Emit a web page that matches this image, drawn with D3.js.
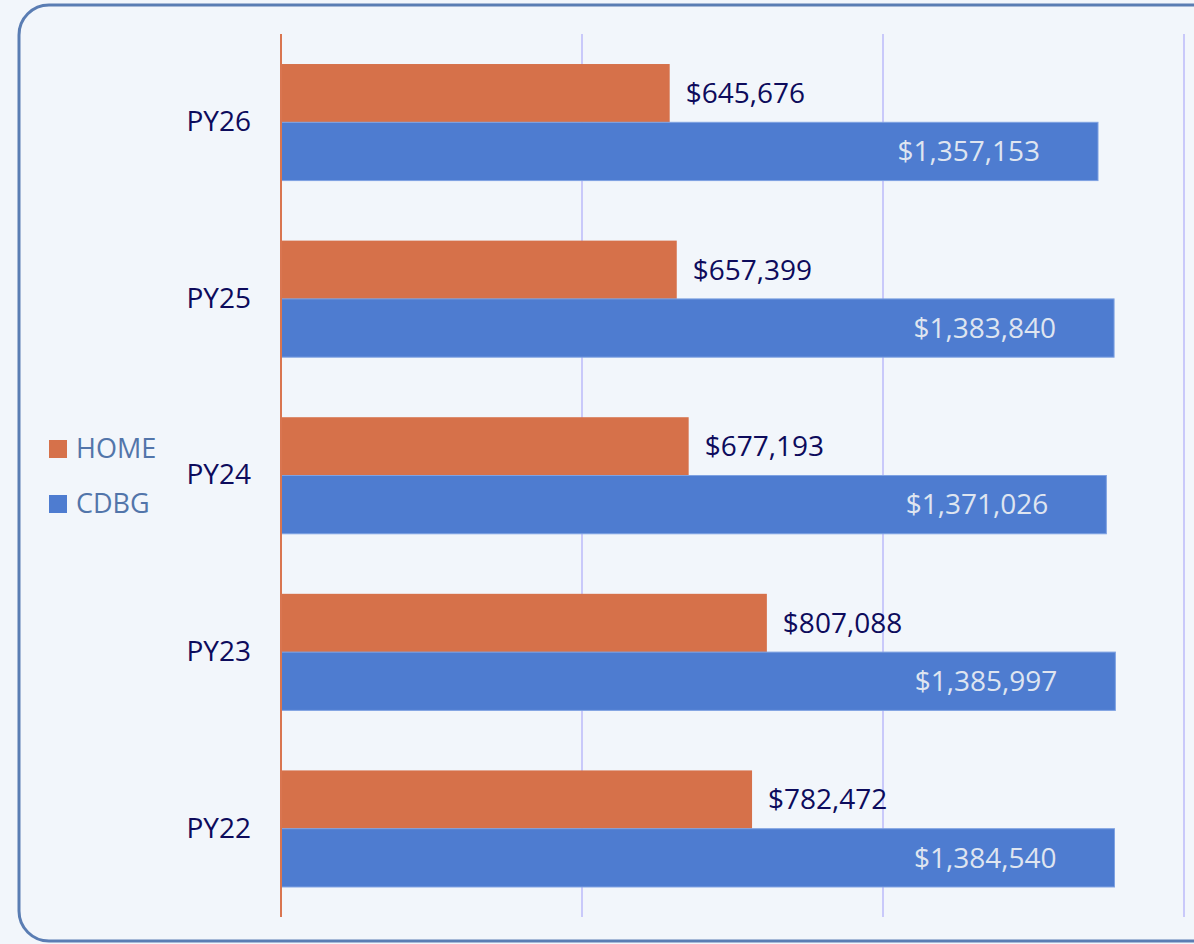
<!DOCTYPE html>
<html>
<head>
<meta charset="utf-8">
<script src="https://cdn.jsdelivr.net/npm/d3@7"></script>
<style>
  body { margin: 0; background: #f2f6fb; }
  svg { display: block; font-family: "Open Sans", sans-serif; }
</style>
</head>
<body>
<script>
// chart data
var years = ["PY26", "PY25", "PY24", "PY23", "PY22"];
var series = ["HOME", "CDBG"];
var homeValues = [645676, 657399, 677193, 807088, 782472];
var cdbgValues = [1357153, 1383840, 1371026, 1385997, 1384540];
var xTicks = [0, 500000, 1000000, 1500000];

var colors = { HOME: "#d6714a", CDBG: "#4e7cd0" };

window.onload = function(){
    var w = 1194, h = 944;

    var svg = d3.select("body").append("svg")
        .attr("width", w)
        .attr("height", h);

    // rounded frame
    svg.append("rect")
        .attr("x", 19).attr("y", 5)
        .attr("width", 1210).attr("height", 936)
        .attr("rx", 30)
        .style("fill", "#f2f6fb")
        .style("stroke", "#5a7db3")
        .style("stroke-width", 3);

    var x = d3.scaleLinear().domain([0, 1500000]).range([281, 1184]);
    var y = d3.scaleBand().domain(years).range([34, 917]).paddingInner(0.34).paddingOuter(0.17);
    var ySub = d3.scaleBand().domain(series).range([0, y.bandwidth()]);

    var rows = years.map(function(d, i){
        return { year: d, HOME: homeValues[i], CDBG: cdbgValues[i] };
    });

    // gridlines
    svg.selectAll(".grid")
        .data(xTicks.slice(1))
        .enter().append("line")
        .attr("class", "grid")
        .attr("x1", function(d){ return x(d); })
        .attr("x2", function(d){ return x(d); })
        .attr("y1", 34).attr("y2", 917)
        .style("stroke", "#c9c9fa")
        .style("stroke-width", 2);

    var groups = svg.selectAll(".year")
        .data(rows)
        .enter().append("g")
        .attr("class", "year")
        .attr("transform", function(d){ return "translate(0," + y(d.year) + ")"; });

    groups.selectAll("rect")
        .data(function(d){ return series.map(function(s){ return { key: s, value: d[s] }; }); })
        .enter().append("rect")
        .attr("x", x(0))
        .attr("y", function(d){ return ySub(d.key); })
        .attr("width", function(d){ return x(d.value) - x(0); })
        .attr("height", ySub.bandwidth())
        .style("fill", function(d){ return colors[d.key]; })
        .style("stroke", function(d){ return d.key == "CDBG" ? "#7fa2e2" : "none"; })
        .style("stroke-width", 1);

    var fmt = d3.format("$,");

    // HOME labels outside the bar
    groups.append("text")
        .attr("x", function(d){ return x(d.HOME) + 16; })
        .attr("y", ySub("HOME") + ySub.bandwidth() / 2)
        .attr("dy", "0.35em")
        .style("font-size", "28px")
        .style("fill", "#0d0b5c")
        .text(function(d){ return fmt(d.HOME); });

    // CDBG labels inside the bar
    groups.append("text")
        .attr("x", function(d){ return x(d.CDBG) - 58; })
        .attr("y", ySub("CDBG") + ySub.bandwidth() / 2)
        .attr("dy", "0.35em")
        .attr("text-anchor", "end")
        .style("font-size", "28px")
        .style("fill", "#dfe5f0")
        .text(function(d){ return fmt(d.CDBG); });

    // category axis
    var yAxis = svg.append("g")
        .attr("transform", "translate(" + x(0) + ",0)")
        .call(d3.axisLeft(y).tickSize(0).tickPadding(30));
    yAxis.select(".domain").remove();
    yAxis.selectAll("text")
        .style("font-size", "28px")
        .style("font-family", "Open Sans, sans-serif")
        .style("fill", "#0d0b5c");

    svg.append("line")
        .attr("x1", x(0)).attr("x2", x(0))
        .attr("y1", 34).attr("y2", 917)
        .style("stroke", "#d97550")
        .style("stroke-width", 2);

    // legend
    var legend = svg.selectAll(".legend")
        .data(series)
        .enter().append("g")
        .attr("class", "legend")
        .attr("transform", function(d, i){ return "translate(49," + (440 + i * 55) + ")"; });
    legend.append("rect")
        .attr("width", 18).attr("height", 18)
        .style("fill", function(d){ return colors[d]; });
    legend.append("text")
        .attr("x", 27).attr("y", 9)
        .attr("dy", "0.35em")
        .style("font-size", "27px")
        .style("fill", "#5275aa")
        .text(function(d){ return d; });
};
</script>
</body>
</html>
